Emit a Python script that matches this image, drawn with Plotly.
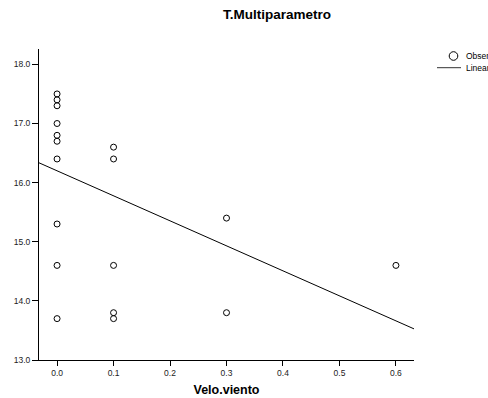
import plotly.graph_objects as go
import numpy as np

velo_viento = [0, 0, 0, 0, 0, 0, 0, 0, 0, 0,
               0.1, 0.1, 0.1, 0.1, 0.1,
               0.3, 0.3,
               0.6]
t_multiparametro = [17.5, 17.4, 17.3, 17.0, 16.8, 16.7, 16.4, 15.3, 14.6, 13.7,
                    16.6, 16.4, 14.6, 13.8, 13.7,
                    15.4, 13.8,
                    14.6]

# Linear fit coefficients
fit_intercept = 16.20
fit_slope = -4.23

legend_labels = ["Observed", "Linear"]

x_range = [-0.032, 0.632]
y_range = [13.0, 18.26]

fit_x = np.array(x_range)
fit_y = fit_intercept + fit_slope * fit_x

font_family = "Liberation Sans, Arial, sans-serif"

# figure geometry (body margin removed via post_script)
W, H = 488, 398
ML, MR, MT, MB = 39, 74, 49, 38
PW, PH = W - ML - MR, H - MT - MB


def px(fx):
    return (fx - ML) / PW


def py(fy):
    return (H - MB - fy) / PH


fig = go.Figure()
fig.add_trace(go.Scatter(
    x=velo_viento, y=t_multiparametro, mode="markers", name=legend_labels[0],
    marker=dict(symbol="circle-open", size=6, color="black", line=dict(width=1, color="black")),
    showlegend=False,
))
fig.add_trace(go.Scatter(
    x=fit_x, y=fit_y, mode="lines", name=legend_labels[1],
    line=dict(color="black", width=1),
    showlegend=False,
))

# manual legend (positions in page pixels)
cx, cy, r = 453.5, 56, 4.3
ly = 67.7
tx = 464
shapes = [
    dict(type="circle", xref="paper", yref="paper",
         x0=px(cx - r), x1=px(cx + r), y0=py(cy + r), y1=py(cy - r),
         line=dict(color="black", width=1)),
    dict(type="line", xref="paper", yref="paper",
         x0=px(437), x1=px(461), y0=py(ly), y1=py(ly),
         line=dict(color="#333", width=1)),
]
annotations = [
    dict(text=legend_labels[0], xref="paper", yref="paper", x=px(tx), y=py(cy),
         xanchor="left", yanchor="middle", showarrow=False,
         font=dict(size=8.5, color="black")),
    dict(text=legend_labels[1], xref="paper", yref="paper", x=px(tx), y=py(ly),
         xanchor="left", yanchor="middle", showarrow=False,
         font=dict(size=8.5, color="black")),
]

fig.update_layout(
    width=W, height=H,
    margin=dict(l=ML, r=MR, t=MT, b=MB, autoexpand=False),
    paper_bgcolor="white", plot_bgcolor="white",
    font=dict(family=font_family, size=8.5, color="#222"),
    title=dict(text="<b>T.Multiparametro</b>", x=277 / W, xanchor="center",
               y=1 - 14 / H, yanchor="middle", font=dict(size=13.5, color="black")),
    showlegend=False,
    shapes=shapes,
    annotations=annotations,
)
fig.update_xaxes(
    range=x_range, dtick=0.1, tick0=0, tickformat=".1f",
    showgrid=False, zeroline=False, showline=True, linecolor="black", linewidth=1,
    ticks="outside", ticklen=5, tickcolor="black",
    title=dict(text="<b>Velo.viento</b>", font=dict(size=12.5, color="black"), standoff=8),
)
fig.update_yaxes(
    range=y_range, dtick=1, tick0=13, tickformat=".1f",
    showgrid=False, zeroline=False, showline=True, linecolor="black", linewidth=1,
    ticks="outside", ticklen=6, tickcolor="black",
)

fig.write_html("out.html",
               config={"displayModeBar": False},
               post_script="document.body.style.margin='0';document.body.style.overflow='hidden';")
